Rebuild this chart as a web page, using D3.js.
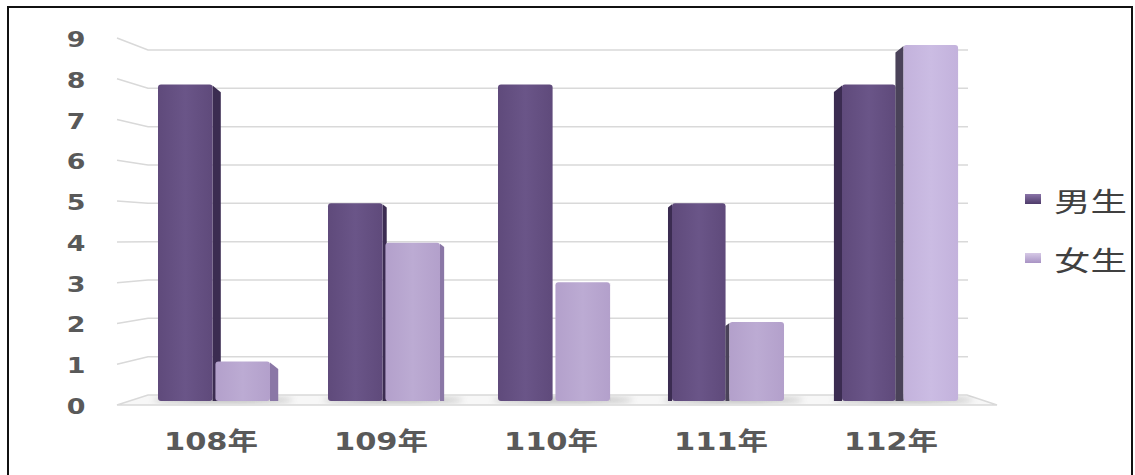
<!DOCTYPE html>
<html>
<head>
<meta charset="utf-8">
<script src="https://cdn.jsdelivr.net/npm/d3@7"></script>
<style>
body { margin: 0; background: #fff; }
</style>
</head>
<body>
<svg id="chart" width="1135" height="475"></svg>
<script>
// data
var years = ["108年", "109年", "110年", "111年", "112年"];
var series = ["男生", "女生"];
var male = [8, 5, 8, 5, 8];
var female = [1, 4, 3, 2, 9];
var yTicks = [0, 1, 2, 3, 4, 5, 6, 7, 8, 9];

var svg = d3.select("#chart");
var defs = svg.append("defs");

// outer border
svg.append("rect")
  .attr("x", 8).attr("y", 7).attr("width", 1124).attr("height", 480)
  .attr("fill", "#fff").attr("stroke", "#111").attr("stroke-width", 2);

var x = d3.scaleBand().domain(years).range([130, 980]);
var xs = d3.scaleBand().domain(series).range([-57, 55]).paddingInner(0.05);
var y = d3.scaleLinear().domain([0, 9]).range([401, 45]);       // bars
var yFront = d3.scaleLinear().domain([0, 9]).range([405, 38]);  // left wall front edge
var yBack = d3.scaleLinear().domain([0, 9]).range([395, 50]);   // back wall

// gradients for bar fronts
function grad(id, c1, c2) {
  var g = defs.append("linearGradient").attr("id", id)
    .attr("x1", 0).attr("x2", 1).attr("y1", 0).attr("y2", 0);
  g.append("stop").attr("offset", "0%").attr("stop-color", c1);
  g.append("stop").attr("offset", "50%").attr("stop-color", c2);
  g.append("stop").attr("offset", "100%").attr("stop-color", c1);
}
grad("gMale", "#5f4a7b", "#6a5588");
grad("gFemale", "#b3a0cb", "#bcabd3");
grad("gFemaleL", "#c3b2dc", "#cbbce3");
var lg1 = defs.append("linearGradient").attr("id", "lMale").attr("x1", 0).attr("x2", 0).attr("y1", 0).attr("y2", 1);
lg1.append("stop").attr("offset", "0%").attr("stop-color", "#8a74a8");
lg1.append("stop").attr("offset", "100%").attr("stop-color", "#4e3b6a");
var lg2 = defs.append("linearGradient").attr("id", "lFemale").attr("x1", 0).attr("x2", 0).attr("y1", 0).attr("y2", 1);
lg2.append("stop").attr("offset", "0%").attr("stop-color", "#d6c9e6");
lg2.append("stop").attr("offset", "100%").attr("stop-color", "#a893c4");

defs.append("filter").attr("id", "blur")
  .append("feGaussianBlur").attr("stdDeviation", 3);

// floor
svg.append("polygon")
  .attr("points", [[117, 405], [148, 395], [967, 395], [997, 405]].map(function(p) { return p.join(","); }).join(" "))
  .attr("fill", "#f7f7f7").attr("stroke", "#d9d9d9").attr("stroke-width", 1.5);

// gridlines (left wall + back wall)
svg.append("g").selectAll("polyline")
  .data(yTicks.filter(function(d) { return d > 0; }))
  .join("polyline")
  .attr("points", function(d) {
    return [[117, yFront(d)], [148, yBack(d)], [968, yBack(d)]].map(function(p) { return p.join(","); }).join(" ");
  })
  .attr("fill", "none").attr("stroke", "#d9d9d9").attr("stroke-width", 1.5);

// y labels
svg.append("g").selectAll("text")
  .data(yTicks)
  .join("text")
  .attr("transform", function(d) { return "translate(76," + (yFront(d) + 2) + ") scale(1.28,1)"; })
  .attr("text-anchor", "middle")
  .attr("dominant-baseline", "central")
  .attr("font-family", "DejaVu Sans, sans-serif")
  .attr("font-weight", "bold")
  .attr("font-size", 21)
  .attr("fill", "#595959")
  .text(function(d) { return d; });

// shadows at base
svg.append("g").selectAll("ellipse")
  .data(years)
  .join("ellipse")
  .attr("cx", function(d) { return x(d) + x.bandwidth() / 2 + 8; })
  .attr("cy", 400)
  .attr("rx", 70).attr("ry", 3)
  .attr("fill", "#888").attr("opacity", 0.6)
  .attr("filter", "url(#blur)");

// bars
var vp = 558, depthK = 0.024;
var bars = svg.append("g");
years.forEach(function(yr, i) {
  var cx = x(yr) + x.bandwidth() / 2;
  var d = (vp - cx) * depthK;
  [[series[0], male[i]], [series[1], female[i]]].forEach(function(s, j) {
    var shift = d < 0 ? (j === 1 ? -d : 4) : 0;
    var x0 = cx + xs(s[0]) + shift;
    var w = xs.bandwidth() - (d < 0 && j === 0 ? 1 : 0);
    var top = y(s[1]), base = y(0);
    var edge = d > 0 ? x0 + w : x0;
    var sideCol = j === 0 ? "#3b2c51" : (d > 0 ? "#8a77a6" : "#4a4259");
    bars.append("polygon")
      .attr("points", [[edge, top + 1], [edge + d, top + Math.abs(d) * 0.8 + 1], [edge + d, base], [edge, base]]
        .map(function(p) { return p.join(","); }).join(" "))
      .attr("fill", sideCol);
    bars.append("rect")
      .attr("x", x0).attr("y", top)
      .attr("width", w).attr("height", base - top)
      .attr("rx", 3)
      .attr("fill", j === 0 ? "url(#gMale)" : (i === 4 ? "url(#gFemaleL)" : "url(#gFemale)"));
  });
});

// x labels
svg.append("g").selectAll("text")
  .data(years)
  .join("text")
  .attr("transform", function(d) { return "translate(" + (x(d) + x.bandwidth() / 2 - 4) + ",441) scale(1.22,1)"; })
  .attr("text-anchor", "middle")
  .attr("dominant-baseline", "central")
  .attr("font-family", "DejaVu Sans, 'Noto Sans CJK TC', sans-serif")
  .attr("font-weight", "bold")
  .attr("font-size", 25)
  .attr("fill", "#595959")
  .text(function(d) { return d; });

// legend
var leg = svg.append("g").selectAll("g")
  .data(series)
  .join("g")
  .attr("transform", function(d, i) { return "translate(1025," + (199 + i * 59) + ")"; });
leg.append("rect")
  .attr("x", 0).attr("y", -5).attr("width", 16).attr("height", 10)
  .attr("fill", function(d, i) { return i === 0 ? "url(#lMale)" : "url(#lFemale)"; });
leg.append("text")
  .attr("transform", "translate(29,1) scale(1.35,1)")
  .attr("dominant-baseline", "central")
  .attr("font-family", "'Noto Sans CJK TC', sans-serif")
  .attr("font-size", 27)
  .attr("fill", "#404040")
  .text(function(d) { return d; });
</script>
</body>
</html>
